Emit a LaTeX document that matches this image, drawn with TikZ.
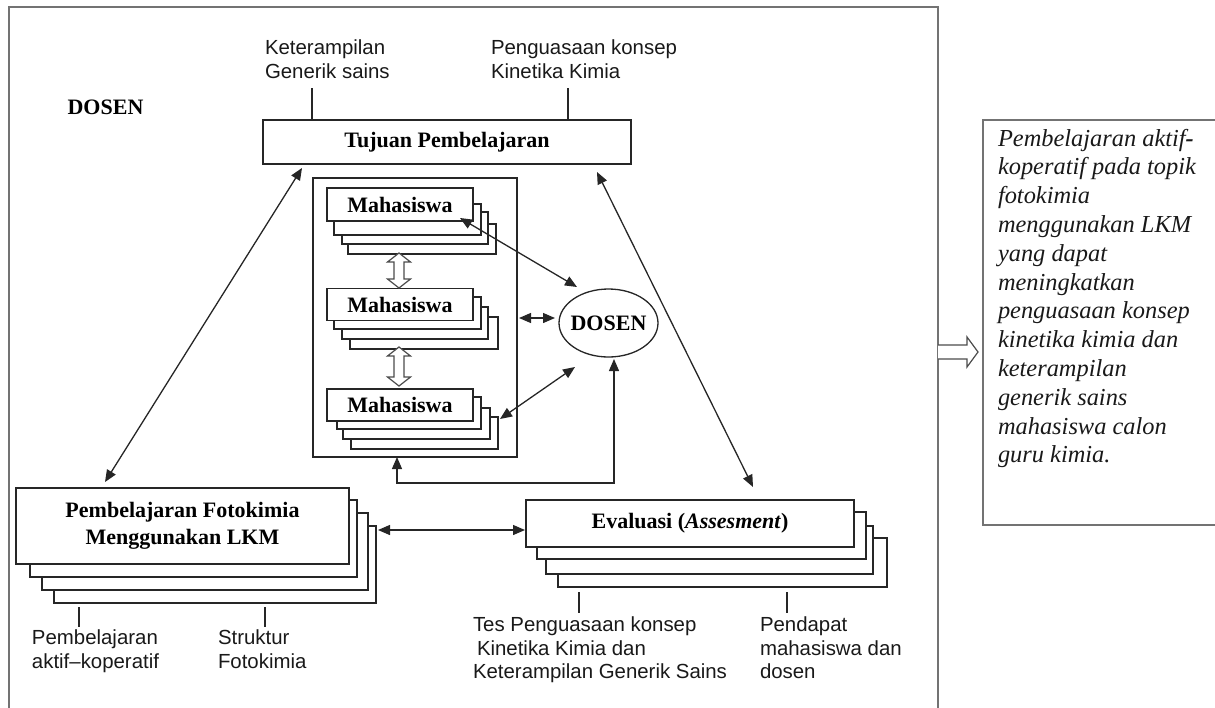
\documentclass[tikz,border=0pt]{standalone}
\usepackage{fontspec}
\setmainfont{Liberation Serif}
\setsansfont{Liberation Sans}
\usetikzlibrary{arrows.meta,shapes.geometric}

\newcommand{\HollowVert}[3]{% x, ytop, ybottom
  \draw[hollow] (#1,#2) -- (#1+11.5,#2+9) -- (#1+5,#2+9) -- (#1+5,#3-9) -- (#1+11.5,#3-9)
    -- (#1,#3) -- (#1-11.5,#3-9) -- (#1-5,#3-9) -- (#1-5,#2+9) -- (#1-11.5,#2+9) -- cycle;}

\begin{document}
\begin{tikzpicture}[x=0.5pt,y=-0.5pt,
  every node/.style={inner sep=0pt, outer sep=0pt},
  frame/.style={draw=black!55, line width=0.9pt},
  box/.style={draw=black!85, line width=0.8pt, fill=white},
  layer/.style={draw=black!85, line width=0.8pt, fill=white},
  title/.style={font=\fontsize{11}{13.5}\selectfont\bfseries, align=center, text=black},
  lbl/.style={font=\fontsize{10.2}{11.75}\selectfont\sffamily, align=left, anchor=north west, text=black!90},
  conn/.style={draw=black!85, line width=0.65pt},
  arr/.style={conn, -{Triangle[length=6pt,width=5pt]}},
  darr/.style={conn, {Triangle[length=6pt,width=5pt]}-{Triangle[length=6pt,width=5pt]}},
  hollow/.style={draw=black!70, line width=0.6pt, fill=white},
]
\useasboundingbox (0,0) rectangle (1215,707);

% outer frame
\draw[frame] (9,712) -- (9,7) -- (938,7) -- (938,712);

% title label
\node[title] (dosenlbl) at (105.5,107) {DOSEN};

% Tujuan
\node[box, minimum width=184pt, minimum height=22pt, title] (tujuan) at (447,142) {Tujuan Pembelajaran};

% top labels
\node[lbl] (kg) at (265,40) {Keterampilan\\Generik sains};
\node[lbl] (pk) at (491,40) {Penguasaan konsep\\Kinetika Kimia};
\coordinate (kgT) at (312,88);
\coordinate (pkT) at (568,88);
\draw[conn] (kgT) -- (kgT |- tujuan.north);
\draw[conn] (pkT) -- (pkT |- tujuan.north);

% container
\node[box, minimum width=102pt, minimum height=139.5pt] (cont) at (415,317.5) {};

% Mahasiswa stacks
\draw[layer] (348,224) rectangle (496,254);
\draw[layer] (342,212) rectangle (488,244);
\draw[layer] (334,204) rectangle (481,235);
\node[box, title, minimum width=73pt, minimum height=16.5pt] (m1) at (400,204.5) {Mahasiswa};

\draw[layer] (350,317) rectangle (498,349);
\draw[layer] (342,307) rectangle (488,339);
\draw[layer] (334,297) rectangle (481,329);
\node[box, title, minimum width=73pt, minimum height=16pt] (m2) at (400,304.5) {Mahasiswa};

\draw[layer] (351,417) rectangle (498,449);
\draw[layer] (343,408) rectangle (490,439);
\draw[layer] (337,397) rectangle (481,429);
\node[box, title, minimum width=73pt, minimum height=16pt] (m3) at (400,405) {Mahasiswa};

% hollow double arrows between Mahasiswa
\HollowVert{399}{253}{288}
\HollowVert{399}{347}{386}

% DOSEN ellipse
\node[ellipse, draw=black!85, line width=0.65pt, fill=white, title, inner xsep=-3pt,
      minimum width=49.5pt, minimum height=34pt] (dosen) at (608.5,323) {DOSEN};

% Pembelajaran stack
\draw[layer] (54,526) rectangle (376,603);
\draw[layer] (42,513) rectangle (368,590);
\draw[layer] (30,500) rectangle (357,577);
\node[box, title, minimum width=166.5pt, minimum height=38pt] (pemb) at (182.5,526)
  {Pembelajaran Fotokimia\\Menggunakan LKM};

% Evaluasi stack
\draw[layer] (558,538) rectangle (887,587);
\draw[layer] (546,526) rectangle (873,574);
\draw[layer] (537,512) rectangle (866,559);
\node[box, title, minimum width=164pt, minimum height=23.5pt] (eval) at (690,523.5)
  {Evaluasi (\textit{Assesment})};

% bottom labels
\node[lbl] (pak) at (32,630) {Pembelajaran\\aktif--koperatif};
\node[lbl] (sf) at (218,630) {Struktur\\Fotokimia};
\node[lbl] (tes) at (473,617) {Tes Penguasaan konsep\\\hspace*{2pt}Kinetika Kimia dan\\Keterampilan Generik Sains};
\node[lbl] (pend) at (760,617) {Pendapat\\mahasiswa dan\\dosen};
\coordinate (pakT) at (79,607);
\coordinate (sfT) at (265,607);
\coordinate (tesT) at (579,592);
\coordinate (pendT) at (787,592);
\draw[conn] (pakT) -- ++(0,20);
\draw[conn] (sfT) -- ++(0,20);
\draw[conn] (tesT) -- ++(0,21);
\draw[conn] (pendT) -- ++(0,21);

% connectors
\coordinate (tujBL) at (302,168);
\coordinate (pembT) at (105,482);
\coordinate (tujBR) at (597,172);
\coordinate (evalT) at (753,487);
\draw[darr] (tujBL) -- (pembT);
\draw[darr] (tujBR) -- (evalT);

\coordinate (m1E) at (460,218);
\coordinate (dosNW) at (577,287);
\draw[darr] (m1E) -- (dosNW);
\coordinate (contE) at (519,318);
\coordinate (dosW) at (555,318);
\draw[darr] (contE) -- (dosW);
\coordinate (m3E) at (500,419);
\coordinate (dosSW) at (575,367);
\draw[darr] (m3E) -- (dosSW);
\coordinate (contS) at (397,457);
\coordinate (dosS) at (614,359);
\draw[darr] (contS) -- ++(0,26) -| (dosS);

\coordinate (pembE) at (378,530);
\coordinate (evalW) at (525,530);
\draw[darr] (pembE) -- (evalW);

% result box
\node[draw=black!55, line width=0.9pt, anchor=north west, minimum width=117pt, minimum height=202.5pt] (result) at (983,120) {};
\node[anchor=north west, align=left, font=\fontsize{12.2}{14.4}\selectfont\itshape, text=black!90] (restext) at (998,129)
  {Pembelajaran aktif\textbf{-}\\koperatif pada topik\\fotokimia\\menggunakan LKM\\yang dapat\\meningkatkan\\penguasaan konsep\\kinetika kimia dan\\keterampilan\\generik sains\\mahasiswa calon\\guru kimia.};

% hollow arrow to result
\draw[hollow] (938,345) -- (967,345) -- (967,337) -- (978,352) -- (967,367) -- (967,359) -- (938,359);
\end{tikzpicture}
\end{document}
